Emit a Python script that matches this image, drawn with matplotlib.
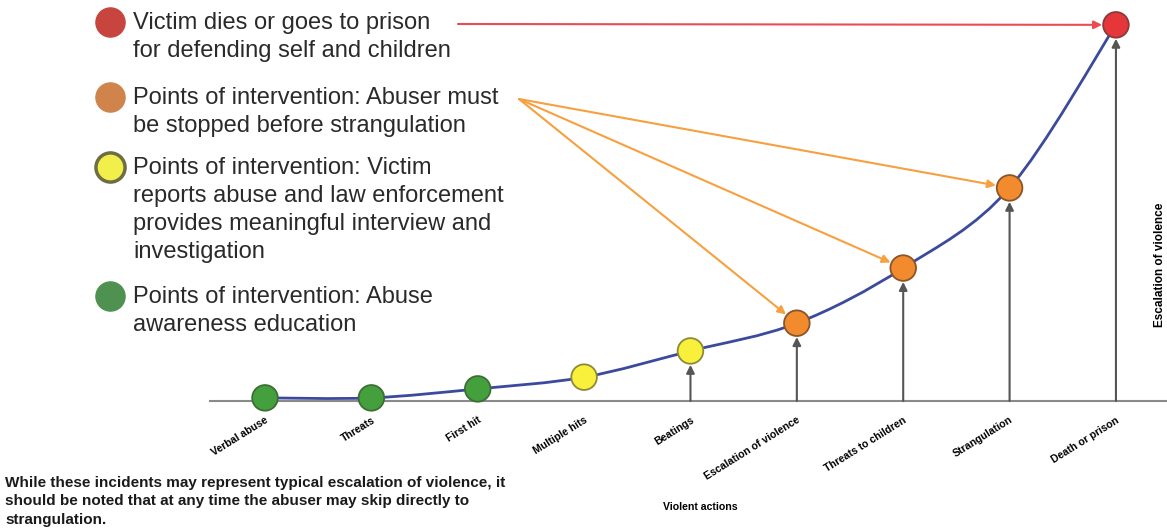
import matplotlib
matplotlib.use("Agg")
import matplotlib.pyplot as plt
from matplotlib.path import Path
from matplotlib.patches import PathPatch

plt.rcParams['font.family'] = ['Liberation Sans', 'DejaVu Sans']

# violent actions along the x axis, and how far each one has escalated (0-100)
steps = ["Verbal abuse", "Threats", "First hit", "Multiple hits", "Beatings",
         "Escalation of violence", "Threats to children", "Strangulation", "Death or prison"]
escalation = [0.8, 0.8, 3.1, 6.1, 12.8, 19.9, 34.0, 54.5, 96.2]
stage = ["green", "green", "green", "yellow", "yellow", "orange", "orange", "orange", "red"]

# which steps get an upward arrow from the baseline / an orange pointer
arrow_steps = ["Beatings", "Escalation of violence", "Threats to children", "Strangulation", "Death or prison"]
orange_steps = ["Escalation of violence", "Threats to children", "Strangulation"]

fill = {"green": "#43a03c", "yellow": "#f8f03a", "orange": "#f28a2e", "red": "#e5363a"}
edge = {"green": "#3d6e35", "yellow": "#8c8a3a", "orange": "#8a5528", "red": "#8a3a3a"}

legend_items = [
    ("red", "Victim dies or goes to prison\nfor defending self and children"),
    ("orange", "Points of intervention: Abuser must\nbe stopped before strangulation"),
    ("yellow", "Points of intervention: Victim\nreports abuse and law enforcement\n"
               "provides meaningful interview and\ninvestigation"),
    ("green", "Points of intervention: Abuse\nawareness education"),
]
legend_fill = {"green": "#4e9150", "yellow": "#f3ef4a", "orange": "#d0834a", "red": "#c8453f"}
legend_edge = {"green": "#4e9150", "yellow": "#6e6e44", "orange": "#d0834a", "red": "#c8453f"}

note = ("While these incidents may represent typical escalation of violence, it\n"
        "should be noted that at any time the abuser may skip directly to\n"
        "strangulation.")

W, H = 1167, 531
fig = plt.figure(figsize=(W / 100, H / 100), dpi=100)

# overlay in pixel space for the free-floating legend and notes
ov = fig.add_axes([0, 0, 1, 1])
ov.set_xlim(0, W)
ov.set_ylim(H, 0)
ov.axis("off")

ax = fig.add_axes([210 / W, (H - 401) / H, (W - 210) / W, 391 / H])
ax.set_zorder(2)
ax.patch.set_alpha(0)
x = list(range(len(steps)))
ax.set_xlim(-0.517, 8.48)
ax.set_ylim(0, 100)

# smooth curve through the points (catmull-rom as cubic beziers)
pts = list(zip(x, escalation))
verts = [pts[0]]
codes = [Path.MOVETO]
for k in range(len(pts) - 1):
    p0 = pts[max(k - 1, 0)]
    p1, p2 = pts[k], pts[k + 1]
    p3 = pts[min(k + 2, len(pts) - 1)]
    c1 = (p1[0] + (p2[0] - p0[0]) / 6, p1[1] + (p2[1] - p0[1]) / 6)
    c2 = (p2[0] - (p3[0] - p1[0]) / 6, p2[1] - (p3[1] - p1[1]) / 6)
    verts += [c1, c2, p2]
    codes += [Path.CURVE4] * 3
ax.add_patch(PathPatch(Path(verts, codes), fill=False, edgecolor="#3b4a9c", lw=2,
                       zorder=2, clip_on=False))

ax.scatter(x, escalation, s=340, c=[fill[s] for s in stage],
           edgecolors=[edge[s] for s in stage], linewidths=1.3, zorder=4, clip_on=False)

for name in arrow_steps:
    i = steps.index(name)
    ax.annotate("", xy=(i, escalation[i]), xytext=(i, 0),
                arrowprops=dict(arrowstyle="-|>", color="#555555", lw=1.5,
                                mutation_scale=12, shrinkA=0, shrinkB=10), zorder=3)

for name in orange_steps:
    i = steps.index(name)
    ax.annotate("", xy=(i, escalation[i]), xycoords=ax.transData,
                xytext=(519, 99), textcoords=ov.transData,
                arrowprops=dict(arrowstyle="-|>", color="#f7a040", lw=1.5,
                                mutation_scale=12, shrinkA=0, shrinkB=10), zorder=3)

i = steps.index("Death or prison")
ax.annotate("", xy=(i, escalation[i]), xycoords=ax.transData,
            xytext=(458, 24), textcoords=ov.transData,
            arrowprops=dict(arrowstyle="-|>", color="#ee4a55", lw=1.5,
                            mutation_scale=12, shrinkA=0, shrinkB=10), zorder=3)

for side in ["top", "right", "left"]:
    ax.spines[side].set_visible(False)
ax.spines["bottom"].set_color("#8a8a8a")
ax.spines["bottom"].set_linewidth(1.5)
ax.set_yticks([])
ax.set_xticks(x)
ax.set_xticklabels(steps, rotation=32, ha="right", va="top", rotation_mode="anchor",
                   fontsize=7.6, fontweight="bold")
ax.tick_params(axis="x", length=0, pad=10)

ov.text(700, 507, "Violent actions", fontsize=7.6, fontweight="bold", ha="center", va="center")
ov.text(1160, 265, "Escalation of violence", fontsize=8.5, fontweight="bold",
        rotation=90, ha="center", va="center")

# legend on the upper left
rows = [22, 97, 167, 296]
for (key, label), y in zip(legend_items, rows):
    ov.scatter([110], [y], s=440, c=legend_fill[key], edgecolors=legend_edge[key],
               linewidths=2.5 if key == "yellow" else 1)
    ov.text(133, y - 10, label, fontsize=17, color="#2a2a2a", va="top", ha="left",
            linespacing=1.36)

ov.text(5, 476, note, fontsize=11, fontweight="bold", color="#1a1a1a", va="top", ha="left",
        linespacing=1.4)

fig.savefig("out.png", dpi=100)
